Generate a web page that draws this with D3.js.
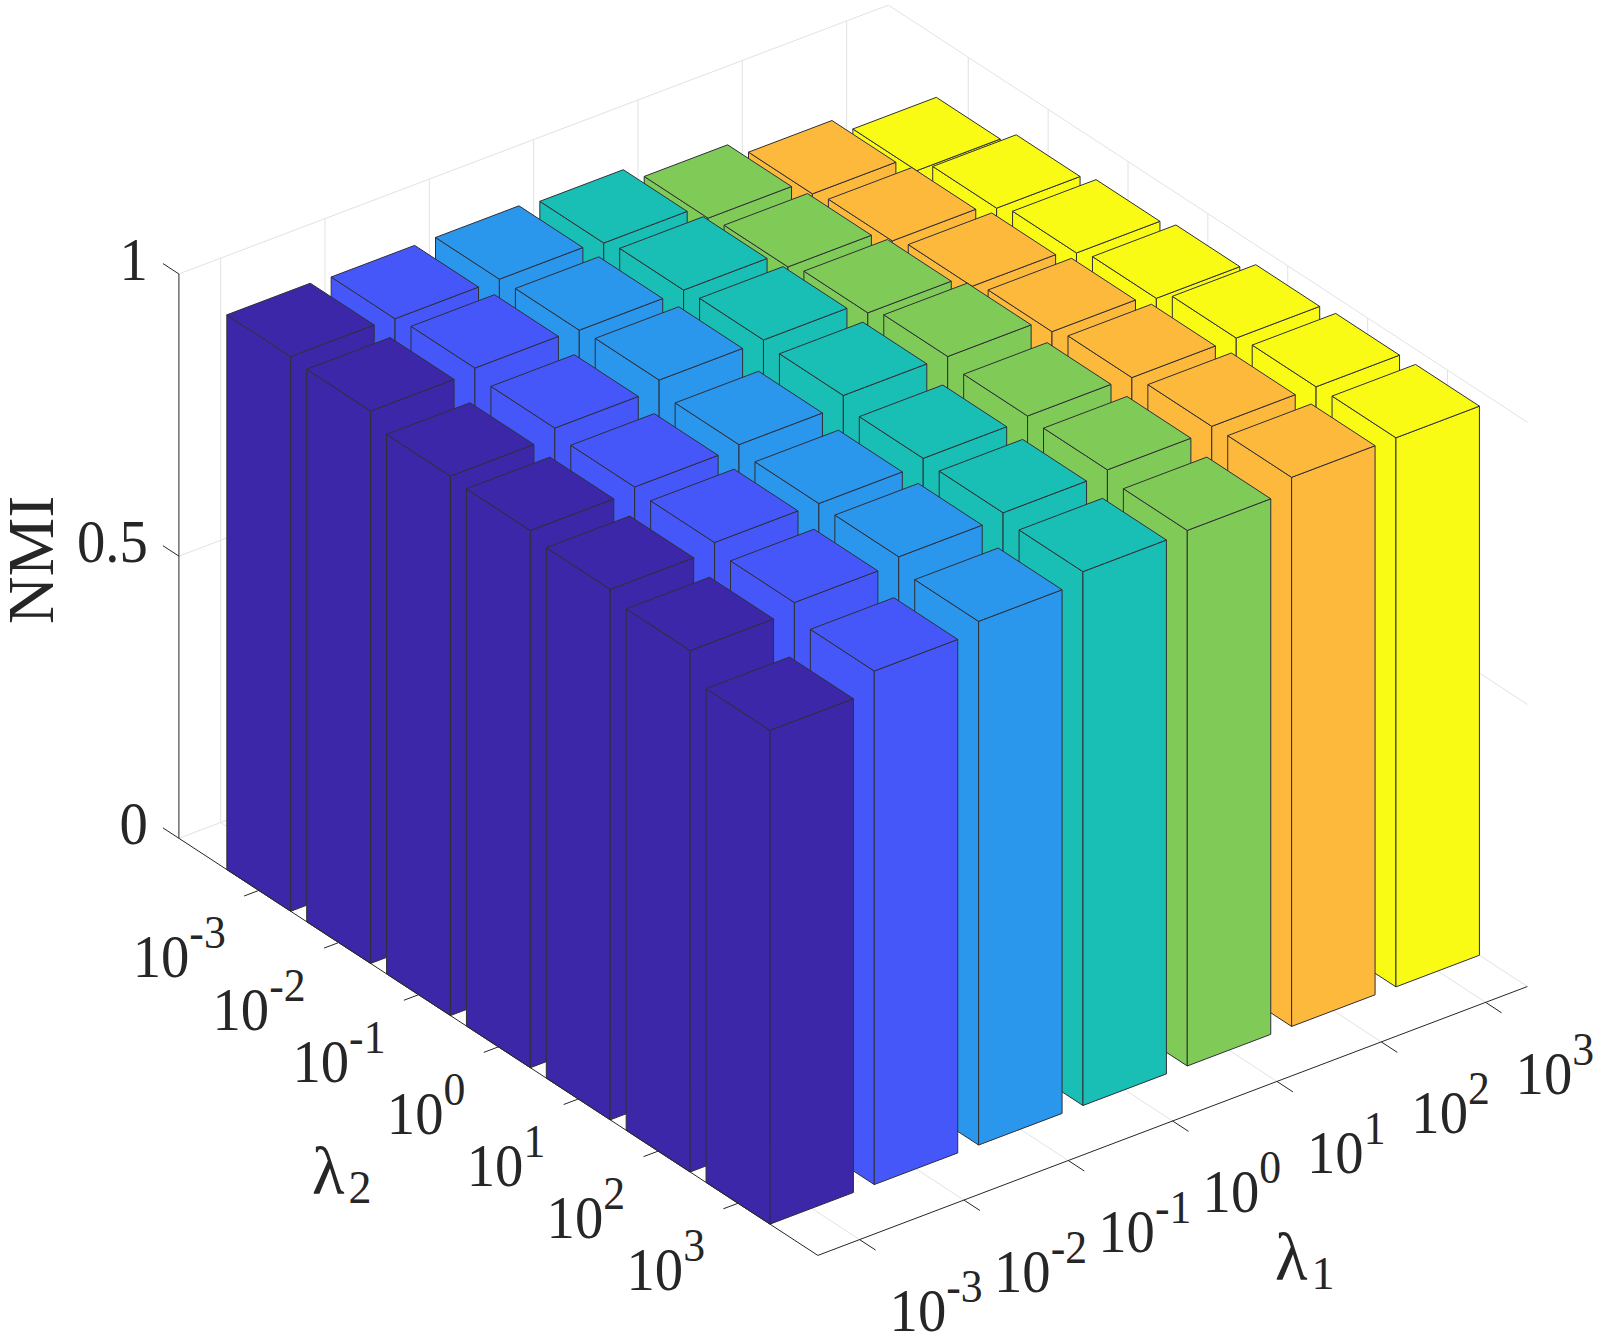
<!DOCTYPE html>
<html><head><meta charset="utf-8">
<style>html,body{margin:0;padding:0;background:#fff}svg{display:block}text{font-family:"Liberation Serif","Times New Roman",serif;fill:#262626}</style>
<script src="https://cdnjs.cloudflare.com/ajax/libs/d3/7.8.5/d3.min.js"></script>
</head><body><div id="c"></div>
<script>
const lambda1Labels=["-3","-2","-1","0","1","2","3"];
const lambda2Labels=["-3","-2","-1","0","1","2","3"];
const zTicks=[0,0.5,1];
const zTickLabels=["0","0.5","1"];
const nmiL1m3=[.983,.979,.956,.952,.940,.924,.875];
const nmiL1m2=[.980,.985,.971,.959,.953,.939,.910];
const nmiL1m1=[.980,.982,.986,.964,.952,.950,.928];
const nmiL10 =[.974,.983,.987,.981,.962,.958,.946];
const nmiL11 =[.948,.954,.965,.980,.967,.964,.949];
const nmiL12 =[.921,.930,.942,.954,.965,.971,.973];
const nmiL13 =[.892,.918,.931,.943,.965,.971,.973];
const columns=[nmiL1m3,nmiL1m2,nmiL1m1,nmiL10,nmiL11,nmiL12,nmiL13];
const colors=["#3C27A9","#4557F8","#2A96EC","#19BFB5","#80CA58","#FDB93B","#F9FB15"];

const W=1603,H=1344,k=W/1568;
const O=[175*k,820*k],vY=[625*k,408*k],vX=[694*k,-263*k],zH=552*k;
const XMIN=0.6,XMAX=7.4,YMIN=0,YMAX=8;
const sx=d3.scaleLinear().domain([XMIN,XMAX]).range([0,1]);
const sy=d3.scaleLinear().domain([YMIN,YMAX]).range([0,1]);
const sz=d3.scaleLinear().domain([0,1]).range([0,zH]);
function P(x,y,z){const a=sx(x),b=sy(y);return [O[0]+a*vX[0]+b*vY[0],O[1]+a*vX[1]+b*vY[1]-sz(z)];}
const svg=d3.select("#c").append("svg").attr("width",W).attr("height",H).attr("viewBox",`0 0 ${W} ${H}`);
const line=(a,b,c,w)=>svg.append("line").attr("x1",a[0]).attr("y1",a[1]).attr("x2",b[0]).attr("y2",b[1]).attr("stroke",c).attr("stroke-width",w||1);
const GRID="#e2e2e2",AX="#262626";
const xt=d3.range(1,8),yt=d3.range(1,8);
// walls and floor grid
xt.forEach(x=>{line(P(x,YMIN,0),P(x,YMIN,1),GRID);line(P(x,YMIN,0),P(x,YMAX,0),GRID);});
yt.forEach(y=>{line(P(XMAX,y,0),P(XMAX,y,1),GRID);line(P(XMIN,y,0),P(XMAX,y,0),GRID);});
zTicks.forEach(z=>{line(P(XMIN,YMIN,z),P(XMAX,YMIN,z),GRID);line(P(XMAX,YMIN,z),P(XMAX,YMAX,z),GRID);});
// bars
const bars=[];
columns.forEach((col,j)=>col.forEach((v,i)=>bars.push({x:j+1,y:i+1,v,c:colors[j]})));
bars.sort((a,b)=>(a.y-a.x)-(b.y-b.x)||(a.y-b.y));
const hw=0.4,path=p=>"M"+p.map(q=>q[0].toFixed(2)+","+q[1].toFixed(2)).join("L")+"Z";
const g=svg.append("g").selectAll("g").data(bars).join("g");
const face=f=>g.append("path").attr("d",d=>path(f(d))).attr("fill",d=>d.c).attr("stroke","#2f2f38").attr("stroke-width",1).attr("stroke-linejoin","round");
face(d=>[P(d.x-hw,d.y-hw,0),P(d.x-hw,d.y+hw,0),P(d.x-hw,d.y+hw,d.v),P(d.x-hw,d.y-hw,d.v)]);
face(d=>[P(d.x-hw,d.y+hw,0),P(d.x+hw,d.y+hw,0),P(d.x+hw,d.y+hw,d.v),P(d.x-hw,d.y+hw,d.v)]);
face(d=>[P(d.x-hw,d.y-hw,d.v),P(d.x-hw,d.y+hw,d.v),P(d.x+hw,d.y+hw,d.v),P(d.x+hw,d.y-hw,d.v)]);
// axes
line(P(XMIN,YMIN,0),P(XMIN,YMIN,1),AX);
line(P(XMIN,YMIN,0),P(XMIN,YMAX,0),AX);
line(P(XMIN,YMAX,0),P(XMAX,YMAX,0),AX);
zTicks.forEach(z=>line(P(XMIN,YMIN,z),P(XMIN,YMIN-0.2,z),AX));
yt.forEach(y=>line(P(XMIN,y,0),P(XMIN-0.14,y,0),AX));
xt.forEach(x=>line(P(x,YMAX,0),P(x,YMAX+0.2,0),AX));
// tick labels (digits in the reference are narrower than the installed serif)
const FS=61,SUP=47,NARROW=0.93;
function power(x,y,anchor,e){
  const t=svg.append("text").attr("transform",`translate(${x},${y}) scale(${NARROW},1)`).attr("text-anchor",anchor).attr("font-size",FS);
  t.append("tspan").text("10");
  t.append("tspan").attr("font-size",SUP).attr("dy",-29).text(e);
}
lambda2Labels.forEach((e,i)=>{const p=P(XMIN,yt[i],0);power(p[0]-33,p[1]+87,"end",e);});
lambda1Labels.forEach((e,i)=>{const p=P(xt[i],YMAX,0);power(p[0]+30,p[1]+91.5,"start",e);});
zTicks.forEach((z,i)=>{const p=P(XMIN,YMIN,z);svg.append("text").attr("transform",`translate(${p[0]-31},${p[1]+6}) scale(${NARROW},1)`).attr("text-anchor","end").attr("font-size",FS).text(zTickLabels[i]);});
// axis titles
svg.append("text").attr("transform",`translate(53,560) rotate(-90)`).attr("text-anchor","middle").attr("font-size",66).text("NMI");
function lam(x,y,s){
  const t=svg.append("text").attr("x",x).attr("y",y).attr("font-size",67);
  t.append("tspan").text("λ");
  t.append("tspan").attr("font-size",46).attr("dy",9).attr("dx",4).text(s);
}
lam(312,1194,"2");
lam(1275,1280,"1");
</script></body></html>
